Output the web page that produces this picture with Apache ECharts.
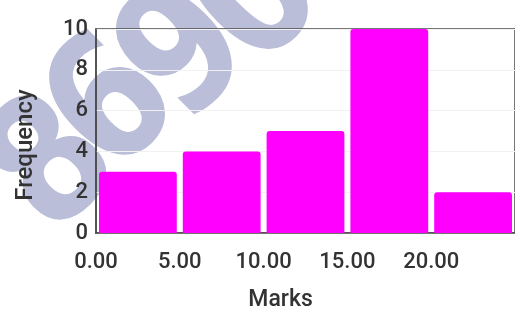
<!DOCTYPE html>
<html>
<head>
<meta charset="utf-8">
<script src="https://cdn.jsdelivr.net/npm/echarts@6/dist/echarts.min.js"></script>
<style>
  html, body { margin: 0; padding: 0; background: #fff; }
  #chart { width: 515px; height: 311px; }
</style>
</head>
<body>
<div id="chart"></div>
<script>
// histogram bins (Marks) and their frequencies
const binStarts = [0, 5, 10, 15, 20]
const binEnds = [5, 10, 15, 20, 25]
const frequency = [3, 4, 5, 10, 2]
const xTicks = [0, 5, 10, 15, 20]
const yTicks = [0, 2, 4, 6, 8, 10]
const watermark = ['8', '6', '9', '0']

const chart = echarts.init(document.getElementById('chart'))

const barData = binStarts.map((s, i) => [s, binEnds[i], frequency[i]])

// big tilted watermark digits behind the plot
const wmPos = [[57, 170], [117, 110], [190, 58], [262, 3]]
const wmGraphic = watermark.map((ch, i) => ({
  type: 'text',
  z: -10,
  x: wmPos[i][0],
  y: wmPos[i][1],
  rotation: 45 * Math.PI / 180,
  scaleX: 0.85,
  style: {
    text: ch,
    font: 'bold 175px "DejaVu Sans"',
    fill: '#babed8',
    align: 'center',
    verticalAlign: 'middle',
  },
}))

chart.setOption({
  animation: false,
  grid: {
    left: 96,
    right: 0,
    top: 29,
    bottom: 78,
    show: true,
    borderColor: '#4a4a4a',
    borderWidth: 1.5,
    containLabel: false,
    outerBoundsMode: 'none',
  },
  graphic: wmGraphic,
  xAxis: {
    type: 'value',
    min: 0,
    max: 25,
    interval: 5,
    name: 'Marks',
    nameLocation: 'middle',
    nameGap: 56,
    nameTextStyle: {
      color: '#333',
      fontFamily: 'Roboto',
      fontSize: 23,
      fontWeight: 500,
      padding: [0, 50, 0, 0],
    },
    axisLine: {show: true, lineStyle: {color: '#4a4a4a', width: 1.5}},
    axisTick: {show: false},
    splitLine: {show: false},
    axisLabel: {
      margin: 18,
      color: '#333',
      fontFamily: 'Roboto',
      fontSize: 22,
      fontWeight: 500,
      formatter: v => (xTicks.includes(v) ? v.toFixed(2) : ''),
    },
  },
  yAxis: {
    type: 'value',
    min: 0,
    max: 10,
    interval: 2,
    name: 'Frequency',
    nameLocation: 'middle',
    nameGap: 58,
    nameTextStyle: {
      color: '#333',
      fontFamily: 'Roboto',
      fontSize: 24,
      fontWeight: 500,
      padding: [0, 28, 0, 0],
    },
    axisLine: {show: true, lineStyle: {color: '#4a4a4a', width: 1.5}},
    axisTick: {show: false},
    splitLine: {show: true, lineStyle: {color: '#f1f1f1', width: 1}},
    axisLabel: {
      margin: 8,
      color: '#333',
      fontFamily: 'Roboto',
      fontSize: 22,
      fontWeight: 500,
      formatter: v => (yTicks.includes(v) ? String(v) : ''),
    },
  },
  series: [
    {
      type: 'custom',
      data: barData,
      encode: {x: [0, 1], y: 2},
      renderItem: (params, api) => {
        const p0 = api.coord([api.value(0), api.value(2)])
        const p1 = api.coord([api.value(1), 0])
        const gap = 3
        return {
          type: 'rect',
          shape: {
            x: p0[0] + gap,
            y: p0[1],
            width: p1[0] - p0[0] - gap * 2,
            height: p1[1] - p0[1],
            r: [3, 3, 0, 0],
          },
          style: {fill: '#ff00ff'},
        }
      },
    },
  ],
})
</script>
</body>
</html>
